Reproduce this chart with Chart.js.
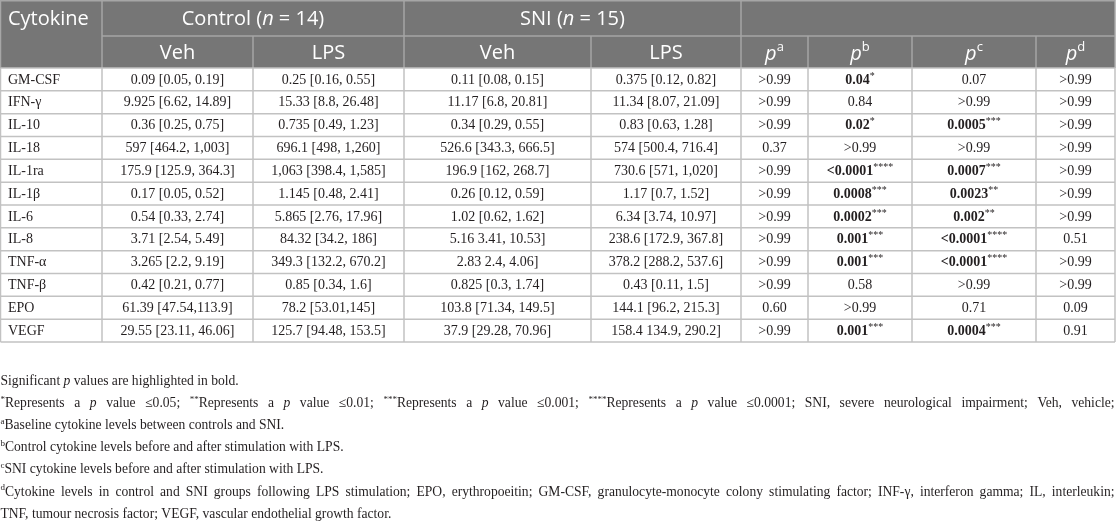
<!DOCTYPE html>
<html><head><meta charset="utf-8">
<script src="https://cdn.jsdelivr.net/npm/chart.js@4.4.0/dist/chart.umd.min.js"></script>
<style>html,body{margin:0;padding:0;background:#fff;}#wrap{width:1116px;height:524px;position:relative;}</style>
</head><body><div id="wrap"><canvas id="c"></canvas></div>
<script>
// ---------- data ----------
const cytokines = ['GM-CSF','IFN-\u03b3','IL-10','IL-18','IL-1ra','IL-1\u03b2','IL-6','IL-8','TNF-\u03b1','TNF-\u03b2','EPO','VEGF'];
const controlVeh = ['0.09 [0.05, 0.19]','9.925 [6.62, 14.89]','0.36 [0.25, 0.75]','597 [464.2, 1,003]','175.9 [125.9, 364.3]','0.17 [0.05, 0.52]','0.54 [0.33, 2.74]','3.71 [2.54, 5.49]','3.265 [2.2, 9.19]','0.42 [0.21, 0.77]','61.39 [47.54,113.9]','29.55 [23.11, 46.06]'];
const controlLPS = ['0.25 [0.16, 0.55]','15.33 [8.8, 26.48]','0.735 [0.49, 1.23]','696.1 [498, 1,260]','1,063 [398.4, 1,585]','1.145 [0.48, 2.41]','5.865 [2.76, 17.96]','84.32 [34.2, 186]','349.3 [132.2, 670.2]','0.85 [0.34, 1.6]','78.2 [53.01,145]','125.7 [94.48, 153.5]'];
const sniVeh = ['0.11 [0.08, 0.15]','11.17 [6.8, 20.81]','0.34 [0.29, 0.55]','526.6 [343.3, 666.5]','196.9 [162, 268.7]','0.26 [0.12, 0.59]','1.02 [0.62, 1.62]','5.16 3.41, 10.53]','2.83 2.4, 4.06]','0.825 [0.3, 1.74]','103.8 [71.34, 149.5]','37.9 [29.28, 70.96]'];
const sniLPS = ['0.375 [0.12, 0.82]','11.34 [8.07, 21.09]','0.83 [0.63, 1.28]','574 [500.4, 716.4]','730.6 [571, 1,020]','1.17 [0.7, 1.52]','6.34 [3.74, 10.97]','238.6 [172.9, 367.8]','378.2 [288.2, 537.6]','0.43 [0.11, 1.5]','144.1 [96.2, 215.3]','158.4 134.9, 290.2]'];
const pA = ['>0.99','>0.99','>0.99','0.37','>0.99','>0.99','>0.99','>0.99','>0.99','>0.99','0.60','>0.99'];
const pB = ['0.04*','0.84','0.02*','>0.99','<0.0001****','0.0008***','0.0002***','0.001***','0.001***','0.58','>0.99','0.001***'];
const pC = ['0.07','>0.99','0.0005***','>0.99','0.0007***','0.0023**','0.002**','<0.0001****','<0.0001****','>0.99','0.71','0.0004***'];
const pD = ['>0.99','>0.99','>0.99','>0.99','>0.99','>0.99','>0.99','0.51','>0.99','>0.99','0.09','0.91'];
const headFirstCol = 'Cytokine';
const groupLabels = [['Control (','n',' = 14)'],['SNI (','n',' = 15)']];
const subLabels = ['Veh','LPS','Veh','LPS'];
const pLabels = ['a','b','c','d'];

// ---------- layout / style ----------
const W = 1116, H = 524;
const colEdges = [0.5,102,253,404,591,741,808,912,1036,1115];
const HEAD1 = 36, HEAD2 = 68, TABLE_BOTTOM = 342;
const NOTE_Y0 = 381, NOTE_DY = 22.2;
const HEAD_BG = '#767676', HEAD_LINE = '#a6a6a6', BODY_LINE = '#c2c2c2', TXT = '#231f20';
const SANS = '"Open Sans", "Noto Sans", sans-serif';
const SERIF = '"Liberation Serif", "DejaVu Serif", serif';
const F_HEAD = '20px ' + SANS, F_HEAD_I = 'italic 20px ' + SANS, F_HEAD_SUP = '13px ' + SANS;
const F_BODY = '14px ' + SERIF, F_BODY_B = 'bold 14px ' + SERIF, F_STAR = '10px ' + SERIF;
const F_NOTE = '13.6px ' + SERIF, F_NOTE_I = 'italic 13.6px ' + SERIF, F_NOTE_SUP = '9px ' + SERIF;

function drawRich(ctx, segs, x, y, o) {
  let natural = 0, spaces = 0;
  segs.forEach(s => { ctx.font = s.f; natural += ctx.measureText(s.t).width; spaces += (s.t.match(/ /g) || []).length; });
  let extra = 0;
  if (o.justify && spaces) extra = (o.width - natural) / spaces;
  let cx = o.align === 'center' ? x - natural / 2 : (o.align === 'right' ? x - natural : x);
  ctx.textAlign = 'left'; ctx.textBaseline = 'middle';
  segs.forEach(s => {
    ctx.font = s.f; ctx.fillStyle = s.c || o.color;
    const parts = s.t.split(' ');
    parts.forEach((p, i) => {
      if (i > 0) cx += ctx.measureText(' ').width + extra;
      if (p) ctx.fillText(p, cx, y + (s.dy || 0));
      cx += ctx.measureText(p).width;
    });
  });
}
function pSegs(v) {
  const m = v.match(/^([^*]*)(\**)$/);
  const sig = m[2].length > 0;
  const segs = [{t: m[1], f: sig ? F_BODY_B : F_BODY}];
  if (sig) segs.push({t: m[2], f: F_STAR, dy: -4});
  return segs;
}
const noteLines = [
  {segs: [{t:'Significant ', f:F_NOTE},{t:'p', f:F_NOTE_I},{t:' values are highlighted in bold.', f:F_NOTE}]},
  {justify:true, segs: [
    {t:'*', f:F_NOTE_SUP, dy:-4},{t:'Represents a ', f:F_NOTE},{t:'p', f:F_NOTE_I},{t:' value \u22640.05; ', f:F_NOTE},
    {t:'**', f:F_NOTE_SUP, dy:-4},{t:'Represents a ', f:F_NOTE},{t:'p', f:F_NOTE_I},{t:' value \u22640.01; ', f:F_NOTE},
    {t:'***', f:F_NOTE_SUP, dy:-4},{t:'Represents a ', f:F_NOTE},{t:'p', f:F_NOTE_I},{t:' value \u22640.001; ', f:F_NOTE},
    {t:'****', f:F_NOTE_SUP, dy:-4},{t:'Represents a ', f:F_NOTE},{t:'p', f:F_NOTE_I},{t:' value \u22640.0001; SNI, severe neurological impairment; Veh, vehicle;', f:F_NOTE}]},
  {segs: [{t:'a', f:F_NOTE_SUP, dy:-4},{t:'Baseline cytokine levels between controls and SNI.', f:F_NOTE}]},
  {segs: [{t:'b', f:F_NOTE_SUP, dy:-4},{t:'Control cytokine levels before and after stimulation with LPS.', f:F_NOTE}]},
  {segs: [{t:'c', f:F_NOTE_SUP, dy:-4},{t:'SNI cytokine levels before and after stimulation with LPS.', f:F_NOTE}]},
  {justify:true, segs: [{t:'d', f:F_NOTE_SUP, dy:-4},{t:'Cytokine levels in control and SNI groups following LPS stimulation; EPO, erythropoeitin; GM-CSF, granulocyte-monocyte colony stimulating factor; INF-\u03b3, interferon gamma; IL, interleukin;', f:F_NOTE}]},
  {segs: [{t:'TNF, tumour necrosis factor; VEGF, vascular endothelial growth factor.', f:F_NOTE}]}
];

const tablePlugin = {
  id: 'tableDraw',
  afterDraw(chart) {
    const ctx = chart.ctx, xs = chart.scales.x, ys = chart.scales.y;
    const X = v => xs.getPixelForValue(v);
    const top = chart.chartArea.top, bottom = chart.chartArea.bottom;
    const n = cytokines.length;
    const rowH = (bottom - top) / n;
    const L = X(colEdges[0]), R = X(colEdges[colEdges.length - 1]);
    ctx.save();
    ctx.fillStyle = HEAD_BG; ctx.fillRect(L, 0, R - L, top);
    ctx.strokeStyle = HEAD_LINE; ctx.lineWidth = 1.5;
    const line = (x1, y1, x2, y2) => { ctx.beginPath(); ctx.moveTo(x1, y1); ctx.lineTo(x2, y2); ctx.stroke(); };
    line(L, 0.75, R, 0.75);
    line(X(colEdges[1]), HEAD1, R, HEAD1);
    [1, 3, 5].forEach(i => line(X(colEdges[i]), 0, X(colEdges[i]), top));
    [2, 4, 6, 7, 8].forEach(i => line(X(colEdges[i]), HEAD1, X(colEdges[i]), top));
    line(L, 0, L, top); line(R, 0, R, top);
    const white = '#ffffff';
    drawRich(ctx, [{t: headFirstCol, f: F_HEAD}], L + 7.5, HEAD1 / 2 + 1, {align: 'left', color: white});
    groupLabels.forEach((g, gi) => {
      const cx = (X(colEdges[1 + gi * 2]) + X(colEdges[3 + gi * 2])) / 2;
      drawRich(ctx, [{t: g[0], f: F_HEAD}, {t: g[1], f: F_HEAD_I}, {t: g[2], f: F_HEAD}], cx, HEAD1 / 2 + 1, {align: 'center', color: white});
    });
    const h2y = (HEAD1 + top) / 2 + 1;
    subLabels.forEach((s, i) => {
      const cx = (X(colEdges[1 + i]) + X(colEdges[2 + i])) / 2;
      drawRich(ctx, [{t: s, f: F_HEAD}], cx, h2y, {align: 'center', color: white});
    });
    pLabels.forEach((s, i) => {
      const cx = (X(colEdges[5 + i]) + X(colEdges[6 + i])) / 2;
      drawRich(ctx, [{t: 'p', f: F_HEAD_I}, {t: s, f: F_HEAD_SUP, dy: -7}], cx, h2y + 1, {align: 'center', color: white});
    });
    ctx.strokeStyle = BODY_LINE; ctx.lineWidth = 1.5;
    for (let i = 0; i <= n; i++) {
      const yy = i === n ? bottom : ys.getPixelForValue(i) - rowH / 2;
      line(L, yy, R, yy);
    }
    colEdges.forEach(e => line(X(e), top, X(e), bottom));
    const cols = [controlVeh, controlLPS, sniVeh, sniLPS];
    cytokines.forEach((c, r) => {
      const yy = ys.getPixelForValue(r) + 0.5;
      drawRich(ctx, [{t: c, f: F_BODY}], L + 7.5, yy, {align: 'left', color: TXT});
      cols.forEach((arr, ci) => {
        const cx = (X(colEdges[1 + ci]) + X(colEdges[2 + ci])) / 2;
        drawRich(ctx, [{t: arr[r], f: F_BODY}], cx, yy, {align: 'center', color: TXT});
      });
      [pA, pB, pC, pD].forEach((arr, ci) => {
        const cx = (X(colEdges[5 + ci]) + X(colEdges[6 + ci])) / 2;
        drawRich(ctx, pSegs(arr[r]), cx, yy, {align: 'center', color: TXT});
      });
    });
    noteLines.forEach((ln, i) => {
      drawRich(ctx, ln.segs, 0.5, NOTE_Y0 + i * NOTE_DY, {align: 'left', color: TXT, justify: !!ln.justify, width: W - 2});
    });
    ctx.restore();
  }
};

new Chart(document.getElementById('c'), {
  type: 'bar',
  data: {labels: cytokines, datasets: []},
  options: {
    responsive: true, maintainAspectRatio: false, animation: false, indexAxis: 'y',
    layout: {padding: {top: HEAD2, bottom: H - TABLE_BOTTOM, left: 0, right: 0}},
    plugins: {legend: {display: false}, tooltip: {enabled: false}, title: {display: false}},
    scales: {
      x: {type: 'linear', min: 0, max: W, display: false},
      y: {type: 'category', display: false, offset: true}
    }
  },
  plugins: [tablePlugin]
});
</script>
</body></html>
